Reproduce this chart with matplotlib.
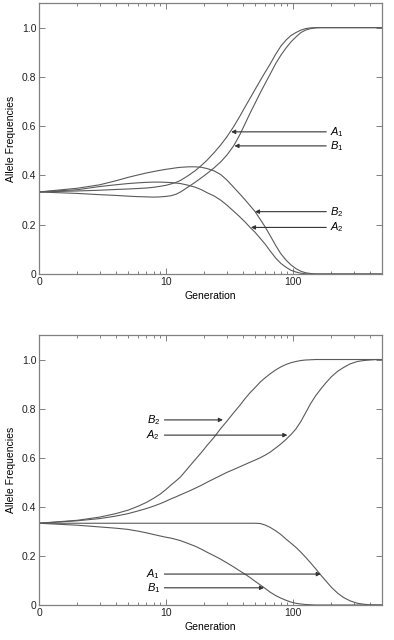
import matplotlib
matplotlib.use("Agg")
import matplotlib.pyplot as plt
from matplotlib.ticker import FixedLocator, FixedFormatter, LogLocator, NullFormatter

plt.rcParams['font.family'] = ['Liberation Sans', 'DejaVu Sans']
plt.rcParams['font.size'] = 7.5
plt.rcParams['mathtext.fontset'] = 'custom'
plt.rcParams['mathtext.it'] = 'Liberation Sans:italic'
plt.rcParams['mathtext.rm'] = 'Liberation Sans'

# generation grid (generation 0 drawn at 1 on the log axis)
gens = [1, 2, 3, 4, 5, 6, 7, 8, 9, 10, 11, 12, 13, 15, 17, 19, 21, 24, 27, 30,
        34, 38, 42, 46, 50, 55, 60, 66, 73, 80, 88, 96, 105, 115, 125, 137,
        150, 165, 180, 200, 225, 250, 280, 320, 360, 400, 450, 500]

# top panel
top_A1 = [.333, .337, .340, .343, .345, .347, .349, .352, .356, .360, .366, .372, .380,
          .400, .420, .441, .462, .494, .525, .556,
          .598, .640, .680, .715, .748, .785, .818, .853, .893, .925,
          .950, .968, .980, .990, .996, .999, 1, 1, 1, 1,
          1, 1, 1, 1, 1, 1, 1, 1]
top_B1 = [.333, .327, .322, .319, .316, .314, .313, .312, .313, .315, .318, .324, .333,
          .354, .373, .391, .408, .432, .456, .482,
          .520, .565, .612, .655, .692, .735, .772, .812, .855, .888,
          .918, .942, .962, .980, .990, .996, .999, 1, 1, 1,
          1, 1, 1, 1, 1, 1, 1, 1]
top_B2 = [.333, .348, .362, .378, .392, .402, .410, .416, .421, .425, .428, .431, .433,
          .435, .435, .433, .428, .418, .403, .382,
          .352, .325, .300, .276, .254, .222, .192, .155, .115, .082,
          .056, .037, .022, .011, .005, .002, 0, 0, 0, 0,
          0, 0, 0, 0, 0, 0, 0, 0]
top_A2 = [.333, .342, .355, .362, .367, .370, .372, .373, .373, .372, .371, .369, .367,
          .360, .352, .342, .330, .316, .299, .280,
          .255, .232, .210, .188, .170, .145, .122, .093, .064, .043,
          .027, .015, .008, .003, .001, 0, 0, 0, 0, 0,
          0, 0, 0, 0, 0, 0, 0, 0]

# bottom panel
bot_B2 = [.333, .345, .358, .372, .386, .402, .418, .435, .452, .471, .490, .506, .522,
          .560, .593, .622, .650, .685, .720, .748,
          .783, .813, .842, .866, .885, .908, .925, .942, .958, .970,
          .980, .987, .992, .996, .998, .999, 1, 1, 1, 1,
          1, 1, 1, 1, 1, 1, 1, 1]
bot_A2 = [.333, .343, .352, .362, .372, .383, .393, .403, .413, .423, .433, .441, .449,
          .463, .476, .488, .500, .515, .528, .540,
          .552, .563, .573, .582, .590, .600, .610, .623, .640, .656,
          .675, .694, .717, .748, .782, .820, .852, .880, .904, .930,
          .953, .968, .982, .992, .996, .998, 1.0, 1.0]
bot_A1 = [.333, .333, .333, .333, .333, .333, .333, .333, .333, .333, .333, .333, .333,
          .333, .333, .333, .333, .333, .333, .333,
          .333, .333, .333, .333, .333, .332, .326, .316, .302, .287,
          .268, .252, .235, .215, .195, .172, .148, .122, .099, .072,
          .047, .030, .017, .007, .003, .001, 0, 0]
bot_B1 = [.333, .325, .318, .313, .308, .301, .294, .287, .281, .276, .272, .267, .262,
          .250, .239, .227, .215, .200, .186, .172,
          .155, .139, .125, .111, .097, .082, .068, .052, .038, .028,
          .019, .012, .007, .004, .002, .001, 0, 0, 0, 0,
          0, 0, 0, 0, 0, 0, 0, 0]

y_ticks = [0, 0.2, 0.4, 0.6, 0.8, 1.0]
y_labels = ['0', '0.2', '0.4', '0.6', '0.8', '1.0']
x_ticks = [1, 10, 100]
x_labels = ['0', '10', '100']

line_col = '#5a5a5a'
frame_col = '#808080'


def style_axes(ax):
    ax.set_xscale('log')
    ax.set_xlim(1, 500)
    ax.set_ylim(0, 1.1)
    ax.xaxis.set_major_locator(FixedLocator(x_ticks))
    ax.xaxis.set_major_formatter(FixedFormatter(x_labels))
    ax.xaxis.set_minor_locator(LogLocator(base=10, subs=range(2, 10)))
    ax.xaxis.set_minor_formatter(NullFormatter())
    ax.yaxis.set_major_locator(FixedLocator(y_ticks))
    ax.yaxis.set_major_formatter(FixedFormatter(y_labels))
    ax.tick_params(which='both', direction='in', top=True, right=True,
                   color=frame_col, labelcolor='#222222', width=0.7)
    ax.tick_params(which='major', length=4, pad=2)
    ax.tick_params(which='minor', length=2.5)
    for s in ax.spines.values():
        s.set_color(frame_col)
        s.set_linewidth(0.9)
    ax.set_xlabel('Generation', labelpad=3)
    ax.set_ylabel('Allele Frequencies', labelpad=4)


def arrow(ax, tip, tail):
    ax.annotate('', xy=tip, xytext=tail,
                arrowprops=dict(arrowstyle='-|>', color='#333333', lw=0.8,
                                mutation_scale=6, shrinkA=0, shrinkB=0))


fig = plt.figure(figsize=(3.94, 6.40), dpi=100)
ax1 = fig.add_axes([0.099, 0.5719, 0.8706, 0.4234])
ax2 = fig.add_axes([0.099, 0.0547, 0.8706, 0.4219])

for ys in (top_A1, top_B1, top_B2, top_A2):
    ax1.plot(gens, ys, color=line_col, lw=0.8)
for ys in (bot_B2, bot_A2, bot_A1, bot_B1):
    ax2.plot(gens, ys, color=line_col, lw=0.8)

style_axes(ax1)
style_axes(ax2)

# top labels: text on the right, arrows pointing left
for name, tip in [('A_1', (32.5, 0.577)), ('B_1', (34.5, 0.52)),
                  ('B_2', (50, 0.253)), ('A_2', (46.5, 0.189))]:
    arrow(ax1, tip, (182, tip[1]))
    ax1.text(195, tip[1], '$' + name + '$', ha='left', va='center', fontsize=8)

# bottom labels: text on the left, arrows pointing right
for name, tip in [('B_2', (28, 0.754)), ('A_2', (90, 0.692)),
                  ('A_1', (165, 0.126)), ('B_1', (59, 0.07))]:
    arrow(ax2, tip, (9.7, tip[1]))
    ax2.text(9.0, tip[1], '$' + name + '$', ha='right', va='center', fontsize=8)

fig.savefig('out.png', dpi=100)
plt.close(fig)
